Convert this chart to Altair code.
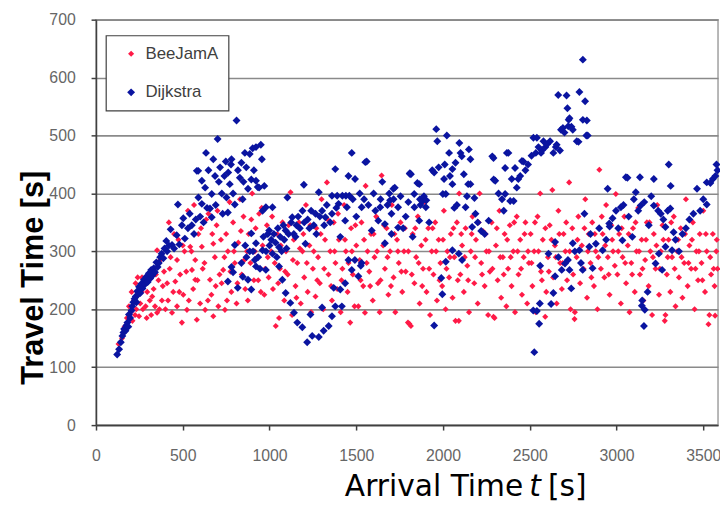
import altair as alt
import pandas as pd

series_names = ["BeeJamA", "Dijkstra"]
series_colors = ["#FF1A47", "#0A14A0"]
series_sizes = [38, 64]
x_ticks = [0, 500, 1000, 1500, 2000, 2500, 3000, 3500]
y_ticks = [0, 100, 200, 300, 400, 500, 600, 700]

beejama = [
    (130,140),(150,150),(165,170),(178,185),(190,205),(200,195),(210,180),(218,215),(225,190),(232,200),
    (240,255),(248,188),(255,210),(262,230),(270,200),(278,245),(286,205),(292,185),(300,260),(310,215),
    (318,190),(324,222),(332,235),(340,205),(352,194),(352,302),(360,250),(371,285),(380,215),(392,265),
    (400,200),(410,245),(420,350),(430,290),(438,194),(445,230),(457,248),(467,205),(467,285),(475,320),
    (485,260),(495,177),(503,225),(510,300),(524,199),(530,370),(543,308),(553,268),(560,235),(572,251),
    (572,285),(581,182),(590,330),(600,210),(610,308),(615,270),(629,199),(635,355),(648,365),(657,251),
    (665,225),(676,188),(676,313),(685,290),(695,345),(705,205),(712,260),(724,245),(733,268),(743,199),
    (750,330),(760,300),(770,385),(780,230),(790,350),(800,280),(810,210),(820,315),(830,390),(840,260),
    (850,360),(860,235),(870,300),(880,330),(890,280),(900,400),(910,250),(920,340),(930,290),(940,365),
    (950,230),(960,310),(975,270),(985,345),(995,255),
    (1010,300),(1020,235),(1036,171),(1045,330),(1055,185),(1060,270),(1075,350),(1085,215),(1095,300),(1105,260),
    (1121,402),(1130,190),(1140,320),(1150,240),(1160,280),(1170,350),(1180,210),(1190,300),(1200,255),(1210,380),
    (1220,230),(1230,310),(1240,195),(1250,270),(1265,222),(1270,340),(1280,290),(1290,245),(1300,390),(1310,200),
    (1320,320),(1331,419),(1340,260),(1350,300),(1360,215),(1370,350),(1380,280),(1390,235),(1400,320),(1410,195),
    (1420,270),(1430,380),(1440,300),(1450,230),(1465,177),(1470,340),(1480,260),(1490,205),(1500,310),
    (1512,205),(1520,285),(1530,350),(1540,240),(1550,194),(1554,413),(1565,300),(1575,265),(1585,330),(1595,215),
    (1605,290),(1615,360),(1625,245),(1635,195),(1646,431),(1655,310),(1665,270),(1675,340),(1685,225),(1695,300),
    (1705,380),(1715,255),(1725,195),(1735,320),(1745,280),(1755,350),(1765,230),(1775,300),(1785,265),(1798,177),
    (1806,175),(1815,171),(1825,330),(1835,245),(1845,290),(1855,360),(1865,210),(1875,310),(1885,270),(1895,385),
    (1905,230),(1915,340),(1925,190),(1935,300),(1945,260),(1955,350),(1965,215),(1975,320),(1985,280),(1995,240),
    (2005,370),(2015,200),(2025,300),(2035,255),(2045,330),(2055,220),(2065,290),(2072,180),(2080,350),(2091,180),
    (2093,400),(2100,260),(2110,310),(2120,230),(2130,340),(2140,275),(2150,195),(2160,300),(2170,360),(2180,245),
    (2190,320),(2200,210),(2211,400),(2220,280),(2230,335),(2240,240),(2250,300),(2260,190),(2270,265),(2280,350),
    (2291,187),(2297,185),(2305,310),(2315,250),(2325,370),(2335,220),(2345,290),(2355,330),(2365,205),(2375,270),
    (2385,345),(2395,240),(2405,300),(2415,195),(2425,360),(2435,260),(2445,320),(2455,225),(2465,290),(2475,350),
    (2485,210),(2495,280),
    (2505,330),(2515,240),(2525,300),(2535,195),(2545,360),(2560,400),(2565,265),(2575,320),(2589,187),(2595,230),
    (2605,290),(2615,345),(2630,406),(2635,255),(2645,310),(2655,210),(2665,370),(2675,280),(2685,235),(2695,330),
    (2705,300),(2715,250),(2727,419),(2735,200),(2745,340),(2758,183),(2760,195),(2770,290),(2780,360),(2790,245),
    (2800,310),(2810,270),(2820,390),(2830,220),(2840,330),(2850,280),(2860,350),(2870,240),(2880,300),(2890,200),
    (2901,441),(2910,270),(2920,330),(2930,255),(2940,380),(2950,290),(2960,225),(2970,345),(2980,300),(2996,399),
    (3005,260),(3015,330),(3025,210),(3035,290),(3045,360),(3055,245),(3065,310),(3075,195),(3085,280),(3095,340),
    (3105,230),(3115,300),(3125,375),(3135,260),(3145,320),(3155,215),(3165,285),(3175,350),(3185,240),(3195,300),
    (3205,190),(3215,330),(3225,270),(3235,380),(3245,225),(3255,300),(3265,345),(3278,180),(3282,190),(3290,260),
    (3300,320),(3310,230),(3320,290),(3330,360),(3340,205),(3350,300),(3360,255),(3370,340),(3380,220),(3390,280),
    (3400,390),(3410,240),(3420,310),(3430,270),(3440,350),(3450,200),(3460,300),(3470,250),(3480,330),(3490,280),
    (3500,370),(3510,230),(3520,300),(3530,174),(3535,190),(3545,260),(3555,330),(3565,240),(3568,189),(3575,300),
    (3582,270),
    (205,230),(228,245),(265,255),(295,230),(345,260),(365,200),(385,240),(415,215),(425,270),(450,330),
    (480,230),(500,310),(520,265),(535,215),(550,300),(565,380),(585,250),(605,340),(625,280),(645,215),
    (670,330),(690,240),(700,370),(720,320),(740,290),(755,215),(775,265),(795,300),(815,245),(835,335),
    (855,285),(875,215),(895,355),(915,300),(935,250),(955,375),(970,225),(990,290),
    (1015,360),(1030,280),(1050,245),(1065,310),(1090,265),(1110,345),(1135,285),(1155,220),(1175,305),(1195,330),
    (1215,280),(1235,345),(1255,300),(1275,250),(1295,330),(1315,270),(1335,355),(1355,240),(1375,300),(1395,365),
    (1415,250),(1435,320),(1455,280),(1475,300),(1495,345),
    (1525,250),(1545,320),(1560,280),(1580,240),(1600,330),(1620,300),(1640,250),(1660,345),(1680,290),(1700,240),
    (1720,330),(1740,300),(1760,265),(1780,340),(1800,300),(1820,260),(1840,340),(1860,280),(1880,240),(1900,320),
    (1920,270),(1940,340),(1960,300),(1980,250),
    (2000,320),(2020,270),(2040,290),(2060,340),(2085,250),(2105,330),(2125,290),(2145,250),(2165,330),(2185,290),
    (2205,350),(2225,260),(2245,330),(2265,300),(2285,270),(2310,340),(2330,290),(2350,260),(2370,320),(2390,290),
    (2410,350),(2430,300),(2450,270),(2470,330),(2490,300),
    (2510,280),(2530,350),(2550,300),(2570,250),(2590,340),(2610,265),(2625,320),(2650,290),(2670,330),(2690,280),
    (2710,350),(2730,300),(2750,260),(2775,320),(2795,280),(2815,340),(2835,300),(2855,255),(2875,330),(2895,290),
    (2915,360),(2935,310),(2955,260),(2975,320),(2990,275),
    (3010,300),(3030,340),(3050,280),(3070,330),(3090,260),(3110,350),(3130,300),(3150,270),(3170,320),(3190,350),
    (3210,290),(3230,310),(3250,270),(3270,320),(3295,290),(3315,350),(3335,270),(3355,320),(3375,290),(3395,330),
    (3415,280),(3435,320),(3455,270),(3475,300),(3495,250),(3515,330),(3540,290),(3560,270),(3578,320),
]

dijkstra = [
    (122,122),(133,131),(143,143),(152,154),(158,160),(162,166),(170,163),(175,172),(181,177),(186,170),
    (190,191),(197,185),(205,198),(209,205),(215,212),(222,218),(229,222),(233,212),(238,231),(244,226),
    (248,239),(255,228),(262,244),(268,236),(276,251),(282,243),(290,256),(298,247),(305,262),(312,253),
    (318,268),(324,258),(333,271),(340,264),(348,281),(355,273),(362,280),(370,290),(378,296),(388,288),
    (395,305),(405,318),(410,300),(420,310),(430,338),(438,311),(450,305),(465,328),(472,381),(480,312),
    (495,345),(503,357),(512,322),(530,340),(540,365),(552,345),(565,330),(575,355),(581,439),(589,439),
    (590,393),(600,360),(610,382),(610,422),(620,350),(629,410),(634,470),(640,375),(648,440),(657,374),
    (667,359),(667,399),(676,459),(686,430),(690,380),(701,494),(708,420),(715,445),(725,400),(730,365),
    (740,430),(748,455),(752,393),(760,367),(762,436),(771,416),(778,450),(781,459),(790,400),(800,381),
    (810,526),(818,440),(829,427),(838,453),(845,390),(850,420),(858,470),(866,445),(876,408),(886,468),
    (895,424),(903,478),(910,440),(922,480),(932,411),(940,410),(950,484),(956,459),(922,422),(970,413),
    (960,370),
    (760,248),(781,273),(790,264),(800,311),(817,237),(838,280),(846,256),(860,310),(867,290),(876,251),
    (886,300),(895,234),(895,331),(905,300),(915,285),(922,314),(922,274),(935,290),(945,270),(960,302),
    (965,325),(979,268),(980,300),(990,330),(998,336),
    (979,376),(1000,310),(1010,320),(1017,376),(1017,296),(1025,330),(1035,315),(1042,290),(1048,340),(1055,307),
    (1055,274),(1062,325),(1070,300),(1074,251),(1080,345),(1085,320),(1093,336),(1093,228),(1098,305),(1103,393),
    (1110,330),(1120,211),(1125,350),(1131,359),(1140,330),(1141,194),(1150,325),(1155,345),(1160,177),(1165,360),
    (1175,340),(1189,169),(1190,370),(1198,415),(1200,350),(1207,313),(1217,143),(1220,355),(1230,340),(1236,191),
    (1240,370),(1246,154),(1255,345),(1265,365),(1270,330),(1284,152),(1284,402),(1290,360),(1303,370),(1303,203),
    (1312,163),(1315,345),(1322,359),(1330,380),(1341,171),(1350,350),(1360,365),(1360,188),(1360,396),(1370,237),
    (1379,205),(1379,442),(1385,375),(1390,396),(1398,382),(1408,234),(1408,325),(1417,205),(1420,396),(1436,245),
    (1436,353),(1440,396),(1446,376),(1455,430),(1455,285),(1460,396),(1474,470),(1474,268),(1480,390),(1492,285),
    (1493,425),(1500,360),(1512,257),(1520,400),(1526,275),(1531,376),(1531,280),(1545,390),(1552,454),(1560,455),
    (1570,380),(1589,336),(1600,400),(1610,370),(1627,353),(1638,376),(1640,390),(1650,420),(1665,347),(1665,314),
    (1680,380),(1690,400),(1695,388),(1703,365),(1703,330),(1714,408),(1715,390),(1722,410),(1741,376),(1741,341),
    (1755,395),(1770,340),(1785,360),(1800,385),(1808,434),
    (1809,435),(1815,433),(1825,325),(1834,399),(1835,376),(1852,418),(1863,416),(1863,353),(1867,390),(1870,380),
    (1882,387),(1890,395),(1901,376),(1904,388),(1920,350),(1938,440),(1949,436),(1949,172),(1961,511),(1967,490),
    (1975,445),(1990,254),(1996,226),(1999,399),(2006,425),(2010,450),(2016,399),(2016,282),(2022,500),(2035,470),
    (2040,430),(2054,442),(2054,416),(2054,302),(2065,375),(2072,453),(2080,380),(2091,296),(2094,487),(2101,470),
    (2108,464),(2110,285),(2120,433),(2130,376),(2138,395),(2145,416),(2149,476),(2158,459),(2158,416),(2168,342),
    (2181,392),(2187,365),(2200,350),(2220,335),(2240,330),(2263,353),(2284,464),(2291,461),(2292,424),(2301,422),
    (2320,400),(2340,390),(2350,370),(2358,444),(2358,399),(2368,470),(2377,470),(2387,387),(2396,425),(2407,387),
    (2415,444),(2425,410),(2434,425),(2445,430),(2455,456),(2463,455),(2475,440),(2490,450),(2510,465),(2520,198),
    (2521,496),(2526,126),(2535,470),(2541,496),(2541,197),(2550,480),(2554,175),(2558,210),(2560,275),(2565,470),
    (2570,474),(2579,490),(2590,480),(2600,485),(2608,296),(2617,490),(2623,209),(2636,470),(2636,228),(2646,257),
    (2646,316),(2650,480),(2655,484),(2664,570),(2665,290),(2674,474),(2680,510),(2684,268),(2691,513),(2700,505),
    (2703,279),(2712,569),(2717,547),(2720,285),(2722,516),(2724,527),(2729,530),(2729,268),(2739,236),(2740,515),
    (2748,510),(2748,314),(2760,300),(2771,490),(2781,489),(2786,575),(2786,302),(2795,280),(2806,631),(2806,527),
    (2805,268),(2815,365),(2819,559),(2826,500),(2829,526),(2834,500),(2843,308),(2850,330),(2862,271),(2881,313),
    (2900,340),(2920,302),(2940,320),(2949,408),(2958,348),(2960,343),(2977,357),(2997,370),(3010,340),(3025,376),
    (3034,319),(3040,380),(3054,428),(3063,427),(3070,360),(3091,325),(3100,390),(3111,402),(3125,370),(3135,428),
    (3139,379),(3146,206),(3158,171),(3148,215),(3160,385),(3163,199),(3179,230),(3186,345),(3200,395),(3215,425),
    (3215,379),(3225,279),(3240,370),(3244,296),(3255,365),(3263,268),(3270,355),(3282,342),(3282,308),(3295,370),
    (3301,450),(3310,374),(3312,413),(3320,302),(3329,333),(3340,320),(3360,300),(3380,330),(3400,340),(3420,355),
    (3443,365),(3464,408),(3482,370),(3500,390),(3520,381),(3520,419),(3541,418),(3555,425),(3570,430),(3576,450),
    (3582,440),
]

rows = [{"t": t, "y": y, "series": "BeeJamA"} for t, y in beejama]
rows += [{"t": t, "y": y, "series": "Dijkstra"} for t, y in dijkstra]
df = pd.DataFrame(rows)

legend_kw = dict(
    orient="none", legendX=10, legendY=16, title=None, direction="vertical",
    strokeColor="#404040", fillColor="white", padding=10, rowPadding=21,
    symbolOffset=7, labelOffset=6, labelFont="Liberation Sans", labelFontSize=17,
    labelColor="#404040", symbolType="diamond", symbolStrokeWidth=0,
)

axis_common = dict(
    title=None, domainColor="#404040", domainWidth=1.5, tickColor="#404040",
    tickSize=5, tickWidth=1.5, labelColor="#666666", labelFont="Liberation Sans",
    labelFontSize=16, format="d",
)

points = alt.Chart(df).mark_point(shape="diamond", filled=True, opacity=1, strokeWidth=0).encode(
    x=alt.X("t:Q", scale=alt.Scale(domain=[0, 3585], nice=False, zero=False),
            axis=alt.Axis(values=x_ticks, grid=False, labelPadding=18, labelBound=False,
                          labelFlush=False, **axis_common)),
    y=alt.Y("y:Q", scale=alt.Scale(domain=[0, 700], nice=False),
            axis=alt.Axis(values=y_ticks, grid=True, gridColor="#8a8a8a", gridWidth=1.6,
                          labelPadding=16, **axis_common)),
    color=alt.Color("series:N", scale=alt.Scale(domain=series_names, range=series_colors),
                    legend=alt.Legend(**legend_kw)),
    size=alt.Size("series:N", scale=alt.Scale(domain=series_names, range=series_sizes),
                  legend=alt.Legend(**legend_kw)),
)

ytitle = alt.Chart(pd.DataFrame({"label": ["Travel Time [s]"]})).mark_text(
    angle=270, font="Liberation Sans", fontSize=31, fontWeight="bold",
    align="center", baseline="alphabetic", color="black",
).encode(x=alt.value(-54), y=alt.value(261), text="label:N")

xt1 = alt.Chart(pd.DataFrame({"label": ["Arrival Time"]})).mark_text(
    font="DejaVu Sans", fontSize=30, align="right", baseline="alphabetic", color="black",
).encode(x=alt.value(432), y=alt.value(482), text="label:N")

xt2 = alt.Chart(pd.DataFrame({"label": ["t"]})).mark_text(
    font="DejaVu Sans", fontSize=30, fontStyle="italic", align="center", baseline="alphabetic", color="black",
).encode(x=alt.value(444), y=alt.value(482), text="label:N")

xt3 = alt.Chart(pd.DataFrame({"label": ["[s]"]})).mark_text(
    font="DejaVu Sans", fontSize=30, align="left", baseline="alphabetic", color="black",
).encode(x=alt.value(457), y=alt.value(482), text="label:N")

chart = alt.layer(points, ytitle, xt1, xt2, xt3).properties(
    width=629, height=410,
    autosize=alt.AutoSizeParams(type="none"),
    padding={"left": 89, "top": 9, "right": 2, "bottom": 78},
).configure_view(stroke="#a0a0a0", strokeWidth=1.5).configure_legend(strokeWidth=1.2)

chart.save("out.html", embed_options={"renderer": "svg", "actions": False})
